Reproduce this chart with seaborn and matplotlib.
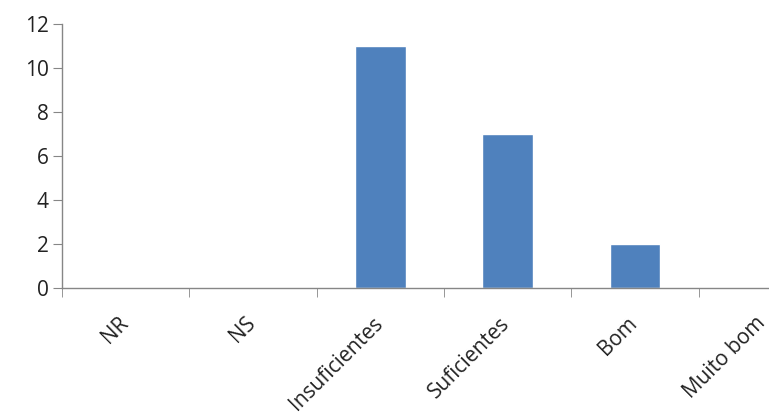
import matplotlib
matplotlib.use("Agg")
import matplotlib.pyplot as plt
import matplotlib.transforms as mtrans
import seaborn as sns
import numpy as np
import pandas as pd
from matplotlib.ticker import FixedLocator

categories = ["NR", "NS", "Insuficientes", "Suficientes", "Bom", "Muito bom"]
values = [0, 0, 11, 7, 2, 0]
y_ticks = [0, 2, 4, 6, 8, 10, 12]

sns.set_style("white")
plt.rcParams['font.family'] = ['Open Sans', 'DejaVu Sans']

fig = plt.figure(figsize=(7.69, 4.17), dpi=100)
ax = fig.add_axes([62/769, 1-288/417, (826-62)/769, (288-24)/417])

df = pd.DataFrame({"cat": categories, "val": values})
sns.barplot(data=df, x="cat", y="val", color="#4F81BD", saturation=1, width=0.4, ax=ax)

ax.set_xlim(-0.5, len(categories)-0.5)
ax.set_ylim(0, 12)
ax.set_yticks(y_ticks)
ax.set_xlabel("")
ax.set_ylabel("")
for s in ["top", "right"]:
    ax.spines[s].set_visible(False)
for s in ["left", "bottom"]:
    ax.spines[s].set_color("#868686")
    ax.spines[s].set_linewidth(1.0)

ax.tick_params(axis="y", which="major", direction="out", length=6.5, color="#868686",
               labelsize=15, labelcolor="#222222", left=True, pad=3)
ax.set_xticks(range(len(categories)))
ax.set_xticklabels(categories, rotation=45, ha="right", rotation_mode="anchor",
                   fontsize=15, color="#222222")
ax.tick_params(axis="x", which="major", length=0, pad=18)
offset = mtrans.ScaledTranslation(-8/100, 0, fig.dpi_scale_trans)
for lbl in ax.get_xticklabels():
    lbl.set_transform(lbl.get_transform() + offset)
ax.xaxis.set_minor_locator(FixedLocator(np.arange(-0.5, len(categories), 1.0)))
ax.tick_params(axis="x", which="minor", direction="out", length=6.5, color="#868686", bottom=True)

fig.savefig("out.png", dpi=100)
